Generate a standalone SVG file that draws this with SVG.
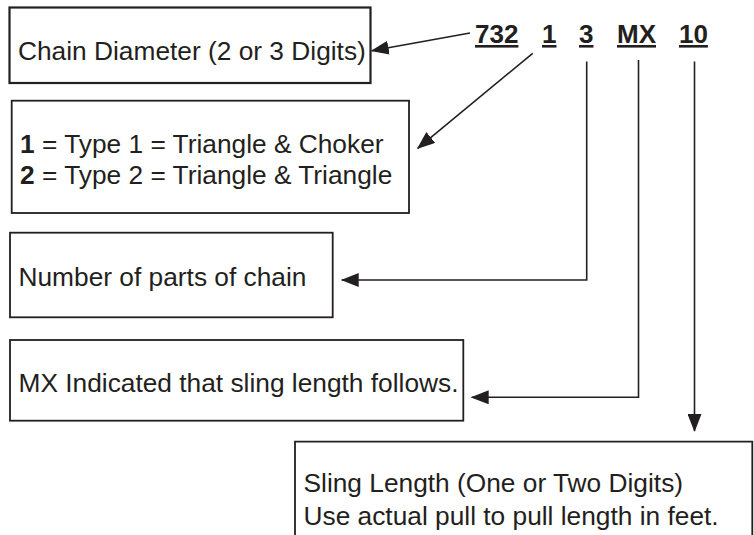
<svg xmlns="http://www.w3.org/2000/svg" width="754" height="535" viewBox="0 0 754 535">
<style>
.box{fill:#fff;stroke:#231f20;stroke-width:1.8}
.t{font-family:"Liberation Sans",Arial,sans-serif;font-size:26.3px;fill:#231f20}
.h{font-family:"Liberation Sans",Arial,sans-serif;font-size:26px;font-weight:bold;fill:#231f20;text-decoration:underline}
.c{fill:none;stroke:#231f20;stroke-width:1.6}
</style>
<defs>
<marker id="ah" markerUnits="userSpaceOnUse" markerWidth="18" markerHeight="14" viewBox="0 0 18 14" refX="17" refY="7" orient="auto">
<path d="M0,0 L18,7 L0,14 z" fill="#231f20"/>
</marker>
</defs>
<rect width="754" height="535" fill="#fff"/>
<g id="code">
<text class="h" x="475" y="43">732</text>
<text class="h" x="542" y="43">1</text>
<text class="h" x="579" y="43">3</text>
<text class="h" x="617" y="43">MX</text>
<text class="h" x="679" y="43">10</text>
</g>
<g id="box-diameter">
<rect class="box" x="9.5" y="7.5" width="361" height="75.5" style="stroke-width:2.2"/>
<text class="t" x="18" y="59.5">Chain Diameter (2 or 3 Digits)</text>
</g>
<g id="box-type">
<rect class="box" x="11.7" y="100.7" width="397.3" height="112.3"/>
<text class="t" x="20" y="153"><tspan font-weight="bold">1</tspan> = Type 1 = Triangle &amp; Choker</text>
<text class="t" x="20" y="184"><tspan font-weight="bold">2</tspan> = Type 2 = Triangle &amp; Triangle</text>
</g>
<g id="box-parts">
<rect class="box" x="10" y="232.7" width="322.7" height="84.6"/>
<text class="t" x="18.5" y="286">Number of parts of chain</text>
</g>
<g id="box-mx">
<rect class="box" x="10" y="340" width="453.3" height="80.7"/>
<text class="t" x="18.5" y="392">MX Indicated that sling length follows.</text>
</g>
<g id="box-length">
<path class="box" d="M295,540 L295,441.7 L752.3,441.7 L752.3,540" style="fill:#fff"/>
<text class="t" x="303.5" y="492">Sling Length (One or Two Digits)</text>
<text class="t" x="303.5" y="525">Use actual pull to pull length in feet.</text>
</g>
<g id="connectors">
<line class="c" x1="470" y1="33" x2="371.7" y2="50.7" marker-end="url(#ah)"/>
<line class="c" x1="532.7" y1="53.3" x2="417.7" y2="148.3" marker-end="url(#ah)"/>
<polyline class="c" points="586.7,61.5 586.7,280 341.7,280" marker-end="url(#ah)"/>
<polyline class="c" points="638.5,60 638.5,397.3 471.7,397.3" marker-end="url(#ah)"/>
<line class="c" x1="694.5" y1="61.5" x2="694.5" y2="431" marker-end="url(#ah)"/>
</g>
</svg>
